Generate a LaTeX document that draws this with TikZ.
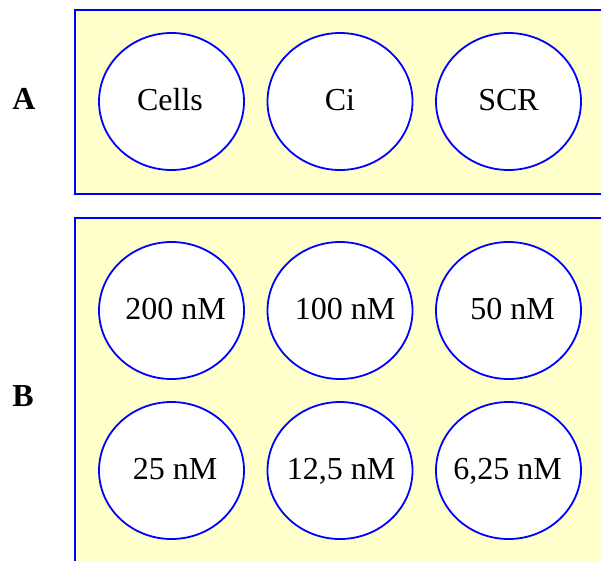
\documentclass[tikz,border=0pt]{standalone}
\usepackage{fontspec}
\setmainfont{Liberation Serif}
\usepackage{tikz}
\usetikzlibrary{shapes.geometric}
\usepackage{xcolor}
\definecolor{platefill}{HTML}{FFFFCC}
\colorlet{wellcol}{blue}
\tikzstyle{plate}=[draw=wellcol,fill=platefill,line width=2.2pt]
\tikzstyle{well}=[ellipse,draw=wellcol,fill=white,line width=1.8pt,minimum width=145pt,minimum height=137pt,inner sep=0pt]
\tikzstyle{welltext}=[inner sep=0pt,anchor=base,yshift=-8.5pt,font=\fontsize{32}{38}\selectfont]
\tikzstyle{panel label}=[font=\fontsize{32}{38}\selectfont\bfseries]

\begin{document}
\begin{tikzpicture}[x=1pt,y=-1pt]
  \useasboundingbox (0,0) rectangle (601,560);
  \def\Ya{101.5}
  \def\Yb{310.5}
  \def\Yc{470.5}
  % plates
  \draw[plate] (75,10) rectangle (610,194);
  \draw[plate] (75,218) rectangle (610,570);
  % wells of panel A
  \foreach \nm/\txt/\dx [count=\i, evaluate={\x=171.5+(\i-1)*168.5;}] in {cells/Cells/-1.5,ci/Ci/0,scr/SCR/0}{
    \node[well] (\nm) at (\x,\Ya) {};
    \node[welltext,xshift=\dx pt] (\nm-txt) at (\nm) {\txt};
  }
  % wells of panel B
  \foreach \nm/\txt/\dx [count=\i, evaluate={\x=171.5+(\i-1)*168.5;}] in {c200/200 nM/4,c100/100 nM/5,c50/50 nM/4}{
    \node[well] (\nm) at (\x,\Yb) {};
    \node[welltext,xshift=\dx pt] (\nm-txt) at (\nm) {\txt};
  }
  \foreach \nm/\txt/\dx [count=\i, evaluate={\x=171.5+(\i-1)*168.5;}] in {c25/25 nM/3.5,c12/{12,5 nM}/1,c6/{6,25 nM}/-1}{
    \node[well] (\nm) at (\x,\Yc) {};
    \node[welltext,xshift=\dx pt] (\nm-txt) at (\nm) {\txt};
  }
  \node[panel label] (labA) at (24,99) {A};
  \node[panel label] (labB) at (23,396) {B};
\end{tikzpicture}
\end{document}
